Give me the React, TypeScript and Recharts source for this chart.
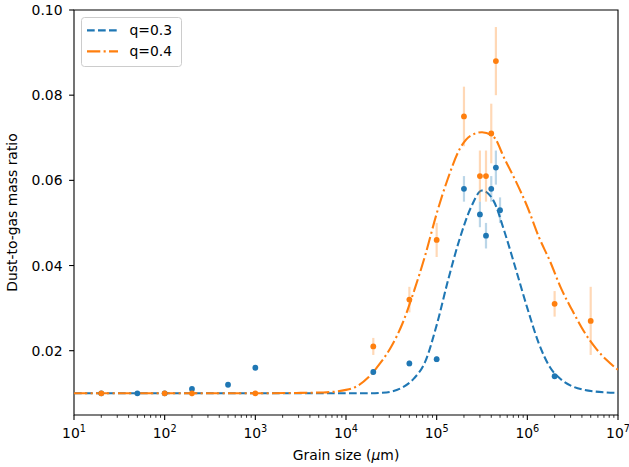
import {ComposedChart, ErrorBar, Legend, Line, ReferenceArea, Scatter, XAxis, YAxis} from 'recharts';

// model curves, sampled along grain size (um)
const curveSizes = [10, 100, 1000, 3162, 5623, 10000, 13335, 17783, 23714, 31623, 42170, 56234, 74989, 100000, 133352, 177828, 237137, 316228, 421697, 562341, 749894, 1000000, 1333521, 1778279, 2371374, 3162278, 4216965, 5623413, 7498942, 10000000];
const curveQ03 = [0.01, 0.01, 0.01, 0.01, 0.01, 0.01, 0.01, 0.01, 0.0101, 0.0104, 0.0114, 0.0135, 0.0175, 0.026, 0.0365, 0.046, 0.0535, 0.0576, 0.0553, 0.0478, 0.039, 0.03, 0.0218, 0.0161, 0.0132, 0.0116, 0.0108, 0.0104, 0.0102, 0.0101];
const curveQ04 = [0.01, 0.01, 0.01, 0.0101, 0.0102, 0.0108, 0.0117, 0.0138, 0.017, 0.021, 0.0265, 0.034, 0.0425, 0.0522, 0.0605, 0.0672, 0.0705, 0.0713, 0.0703, 0.065, 0.0597, 0.0538, 0.0468, 0.041, 0.0345, 0.0293, 0.0245, 0.0207, 0.0178, 0.0155];

// measured points
const obsQ03Sizes = [20, 50, 100, 200, 500, 1000, 20000, 50000, 100000, 200000, 300000, 350000, 400000, 450000, 500000, 2000000];
const obsQ03Ratio = [0.01, 0.01, 0.01, 0.011, 0.012, 0.016, 0.015, 0.017, 0.018, 0.058, 0.052, 0.047, 0.058, 0.063, 0.053, 0.014];
const obsQ03Err = [0, 0, 0, 0, 0, 0, 0.0006, 0.0007, 0.0007, 0.003, 0.003, 0.003, 0.003, 0.004, 0.003, 0.0006];

const obsQ04Sizes = [20, 100, 200, 1000, 20000, 50000, 100000, 200000, 300000, 350000, 400000, 450000, 2000000, 5000000];
const obsQ04Ratio = [0.01, 0.01, 0.01, 0.01, 0.021, 0.032, 0.046, 0.075, 0.061, 0.061, 0.071, 0.088, 0.031, 0.027];
const obsQ04Err = [0, 0, 0.0007, 0, 0.002, 0.003, 0.004, 0.007, 0.006, 0.006, 0.007, 0.008, 0.003, 0.008];

const majorTicks = [10, 100, 1000, 10000, 100000, 1000000, 10000000];
const minorSteps = [2, 3, 4, 5, 6, 7, 8, 9];
const yTicks = [0.02, 0.04, 0.06, 0.08, 0.1];

const BLUE = '#1f77b4';
const ORANGE = '#ff7f0e';
const FONT = '"DejaVu Sans", sans-serif';

const q03Line = curveSizes.map((x, i) => ({x, y: curveQ03[i]}));
const q04Line = curveSizes.map((x, i) => ({x, y: curveQ04[i]}));
const q03Points = obsQ03Sizes.map((x, i) => ({x, y: obsQ03Ratio[i], err: obsQ03Err[i]}));
const q04Points = obsQ04Sizes.map((x, i) => ({x, y: obsQ04Ratio[i], err: obsQ04Err[i]}));

const xTicks = [
    ...majorTicks,
    ...majorTicks.slice(0, -1).flatMap((d) => minorSteps.map((m) => d * m)),
].sort((a, b) => a - b);

const isMajor = (v: number) => majorTicks.includes(v);

function XTick({x, y, payload}: any) {
    const v = payload.value;
    if (!isMajor(v)) {
        return <line x1={x} x2={x} y1={y} y2={y + 2.8} stroke="#000" strokeWidth={0.8}/>;
    }
    const exp = Math.round(Math.log10(v));
    return (
        <g>
            <line x1={x} x2={x} y1={y} y2={y + 4.9} stroke="#000" strokeWidth={1.1}/>
            <text x={x} y={y + 22.7} textAnchor="middle" fontFamily={FONT} fontSize={13.9} fill="#000">
                10<tspan dy={-5.7} fontSize={9.7}>{exp}</tspan>
            </text>
        </g>
    );
}

function YTick({x, y, payload}: any) {
    return (
        <g>
            <line x1={x - 4.9} x2={x} y1={y} y2={y} stroke="#000" strokeWidth={1.1}/>
            <text x={x - 11.5} y={y + 5} textAnchor="end" fontFamily={FONT} fontSize={13.9} fill="#000">
                {payload.value.toFixed(2)}
            </text>
        </g>
    );
}

function LegendBox() {
    return (
        <svg width={101} height={50} style={{display: 'block'}}>
            <rect x={0.5} y={0.5} width={100} height={49} rx={3} fill="#fff" fillOpacity={0.8} stroke="#cccccc"/>
            <line x1={6} x2={37} y1={13.4} y2={13.4} stroke={BLUE} strokeWidth={2.08} strokeDasharray="7.7 3.3"/>
            <text x={48.5} y={18.4} fontFamily={FONT} fontSize={13.9} fill="#000">q=0.3</text>
            <line x1={6} x2={37} y1={34.4} y2={34.4} stroke={ORANGE} strokeWidth={2.08} strokeDasharray="13.3 3.3 2.1 3.3"/>
            <text x={48.5} y={39.4} fontFamily={FONT} fontSize={13.9} fill="#000">q=0.4</text>
        </svg>
    );
}

const dot = (color: string) => (props: any) => (
    <circle cx={props.cx} cy={props.cy} r={2.9} fill={color}/>
);

export default function App() {
    return (
        <div style={{position: 'absolute', left: 0, top: 0, background: '#fff'}}>
            <ComposedChart width={629} height={467} margin={{top: 10, right: 11, bottom: 0, left: 0}}>
                <XAxis
                    dataKey="x"
                    type="number"
                    scale="log"
                    domain={[10, 10000000]}
                    allowDataOverflow
                    ticks={xTicks}
                    interval={0}
                    height={52}
                    axisLine={false}
                    tickLine={false}
                    tickSize={0}
                    tickMargin={0}
                    tick={<XTick/>}
                    label={(props: any) => {
                        const vb = props.viewBox;
                        return (
                            <text x={vb.x + vb.width / 2} y={459.5} textAnchor="middle" fontFamily={FONT} fontSize={13.9} fill="#000">
                                Grain size (<tspan fontStyle="italic">μ</tspan>m)
                            </text>
                        );
                    }}
                />
                <YAxis
                    type="number"
                    domain={[0.0049, 0.1]}
                    allowDataOverflow
                    ticks={yTicks}
                    interval={0}
                    width={74}
                    axisLine={false}
                    tickLine={false}
                    tickSize={0}
                    tickMargin={0}
                    tick={<YTick/>}
                    label={(props: any) => {
                        const vb = props.viewBox;
                        const cy = vb.y + vb.height / 2;
                        return (
                            <text x={17} y={cy} transform={`rotate(-90, 17, ${cy})`} textAnchor="middle" fontFamily={FONT} fontSize={13.9} fill="#000">
                                Dust-to-gas mass ratio
                            </text>
                        );
                    }}
                />
                <ReferenceArea x1={10} x2={10000000} y1={0.0049} y2={0.1} fill="none" stroke="#000" strokeWidth={1.1} ifOverflow="visible"/>
                <Line data={q03Line} dataKey="y" type="monotone" stroke={BLUE} strokeWidth={2.08} strokeDasharray="7.7 3.3" dot={false} isAnimationActive={false}/>
                <Line data={q04Line} dataKey="y" type="monotone" stroke={ORANGE} strokeWidth={2.08} strokeDasharray="13.3 3.3 2.1 3.3" dot={false} isAnimationActive={false}/>
                <Scatter data={q03Points} dataKey="y" fill={BLUE} shape={dot(BLUE)} isAnimationActive={false}>
                    <ErrorBar dataKey="err" direction="y" width={0} stroke="rgba(31,119,180,0.3)" strokeWidth={2.2} isAnimationActive={false}/>
                </Scatter>
                <Scatter data={q04Points} dataKey="y" fill={ORANGE} shape={dot(ORANGE)} isAnimationActive={false}>
                    <ErrorBar dataKey="err" direction="y" width={0} stroke="rgba(255,127,14,0.3)" strokeWidth={2.2} isAnimationActive={false}/>
                </Scatter>
                <Legend
                    layout="horizontal"
                    verticalAlign="middle"
                    align="center"
                    wrapperStyle={{left: 81, top: 17, width: 101, height: 50}}
                    content={() => <LegendBox/>}
                />
            </ComposedChart>
        </div>
    );
}
